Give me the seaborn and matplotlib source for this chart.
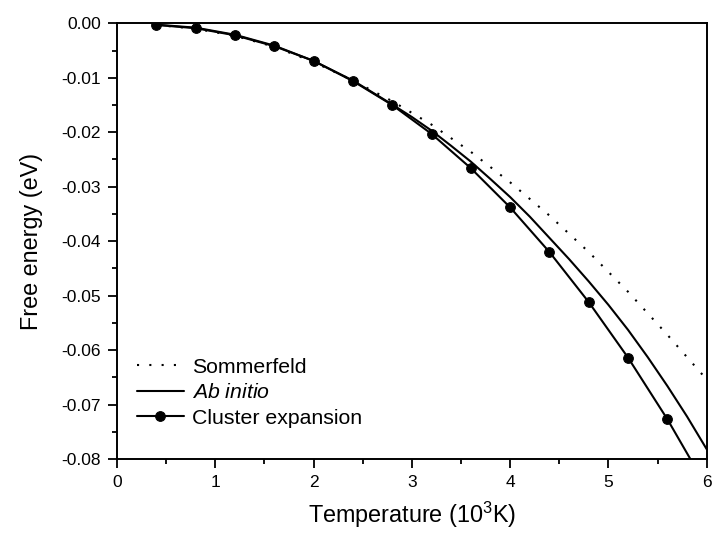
import matplotlib
matplotlib.use("Agg")
import matplotlib.pyplot as plt
import seaborn as sns
import numpy as np
import pandas as pd
from matplotlib.ticker import MultipleLocator, FuncFormatter

# Data (temperature in 10^3 K, free energy in eV)
temp_sommerfeld = [0.4, 0.8, 1.2, 1.6, 2.0, 2.4, 2.8, 3.2, 3.6, 4.0, 4.4, 4.8, 5.2, 5.6, 6.0]
f_sommerfeld = [-0.0003, -0.0010, -0.0023, -0.0043, -0.0071, -0.0105, -0.0143, -0.0186,
                -0.0236, -0.0292, -0.0353, -0.0420, -0.0493, -0.0572, -0.0654]

temp_abinitio = [0.4, 0.8, 1.2, 1.6, 2.0, 2.4, 2.8, 3.0, 3.2, 3.4, 3.6, 3.8, 4.0, 4.2,
                 4.4, 4.6, 4.8, 5.0, 5.2, 5.4, 5.6, 5.8, 6.0]
f_abinitio = [-0.0003, -0.0009, -0.0022, -0.0042, -0.0069, -0.0105, -0.0149, -0.0172,
              -0.0197, -0.0225, -0.0254, -0.0286, -0.0319, -0.0355, -0.0394, -0.0433,
              -0.0474, -0.0517, -0.0563, -0.0613, -0.0666, -0.0722, -0.0782]

temp_cluster = [0.4, 0.8, 1.2, 1.6, 2.0, 2.4, 2.8, 3.2, 3.6, 4.0, 4.4, 4.8, 5.2, 5.6, 6.0]
f_cluster = [-0.00025, -0.0008, -0.0021, -0.0041, -0.0069, -0.0106, -0.0150, -0.0203,
             -0.0266, -0.0338, -0.0420, -0.0512, -0.0614, -0.0727, -0.0852]

series_labels = ["Sommerfeld", "$\\mathit{Ab\\ initio}$", "Cluster expansion"]
xlabel = "Temperature (10$^{3}$K)"
ylabel = "Free energy (eV)"

sns.set_style("ticks")
plt.rcParams['font.family'] = ['Liberation Sans', 'DejaVu Sans']
plt.rcParams['mathtext.fontset'] = 'custom'
plt.rcParams['mathtext.rm'] = 'Liberation Sans'
plt.rcParams['mathtext.it'] = 'Liberation Sans:italic'
plt.rcParams['axes.unicode_minus'] = False
for k in ['text.color', 'axes.labelcolor', 'xtick.color', 'ytick.color', 'axes.edgecolor']:
    plt.rcParams[k] = 'black'

fig = plt.figure(figsize=(7.13, 5.36), dpi=100)
ax = fig.add_axes([117/713, 1 - 459/536, (706.7 - 117)/713, (459 - 23.3)/536])

lw = 1.5
sns.lineplot(x=temp_sommerfeld, y=f_sommerfeld, ax=ax, color="black", lw=1.5,
             linestyle=(0, (1, 4.9)), label=series_labels[0])
sns.lineplot(x=temp_abinitio, y=f_abinitio, ax=ax, color="black", lw=lw,
             label=series_labels[1])
sns.lineplot(x=temp_cluster, y=f_cluster, ax=ax, color="black", lw=lw,
             marker="o", markersize=7, markeredgecolor="black",
             label=series_labels[2])

ax.set_xlim(0, 6)
ax.set_ylim(-0.08, 0.0)
ax.xaxis.set_major_locator(MultipleLocator(1))
ax.xaxis.set_minor_locator(MultipleLocator(0.5))
ax.yaxis.set_major_locator(MultipleLocator(0.01))
ax.yaxis.set_minor_locator(MultipleLocator(0.005))
ax.xaxis.set_major_formatter(FuncFormatter(lambda v, p: f"{v:.0f}"))
ax.yaxis.set_major_formatter(FuncFormatter(lambda v, p: f"{v:.2f}".replace("-0.00", "0.00")))

ax.tick_params(which="major", direction="out", length=6.5, width=1.3, labelsize=12.5,
               pad=5, colors="black")
ax.tick_params(which="minor", direction="out", length=3.5, width=1.3)
for s in ax.spines.values():
    s.set_linewidth(1.4)
    s.set_color("black")
    s.set_visible(True)

ax.set_xlabel(xlabel, fontsize=16.8, labelpad=7)
ax.set_ylabel(ylabel, fontsize=16.8, labelpad=13)

leg = ax.legend(loc="upper left", bbox_to_anchor=(0.034, 0.232), frameon=False,
                fontsize=15.3, handlelength=2.2, handletextpad=0.38, labelspacing=0.3,
                borderpad=0, borderaxespad=0)

fig.savefig("out.png", dpi=100)
